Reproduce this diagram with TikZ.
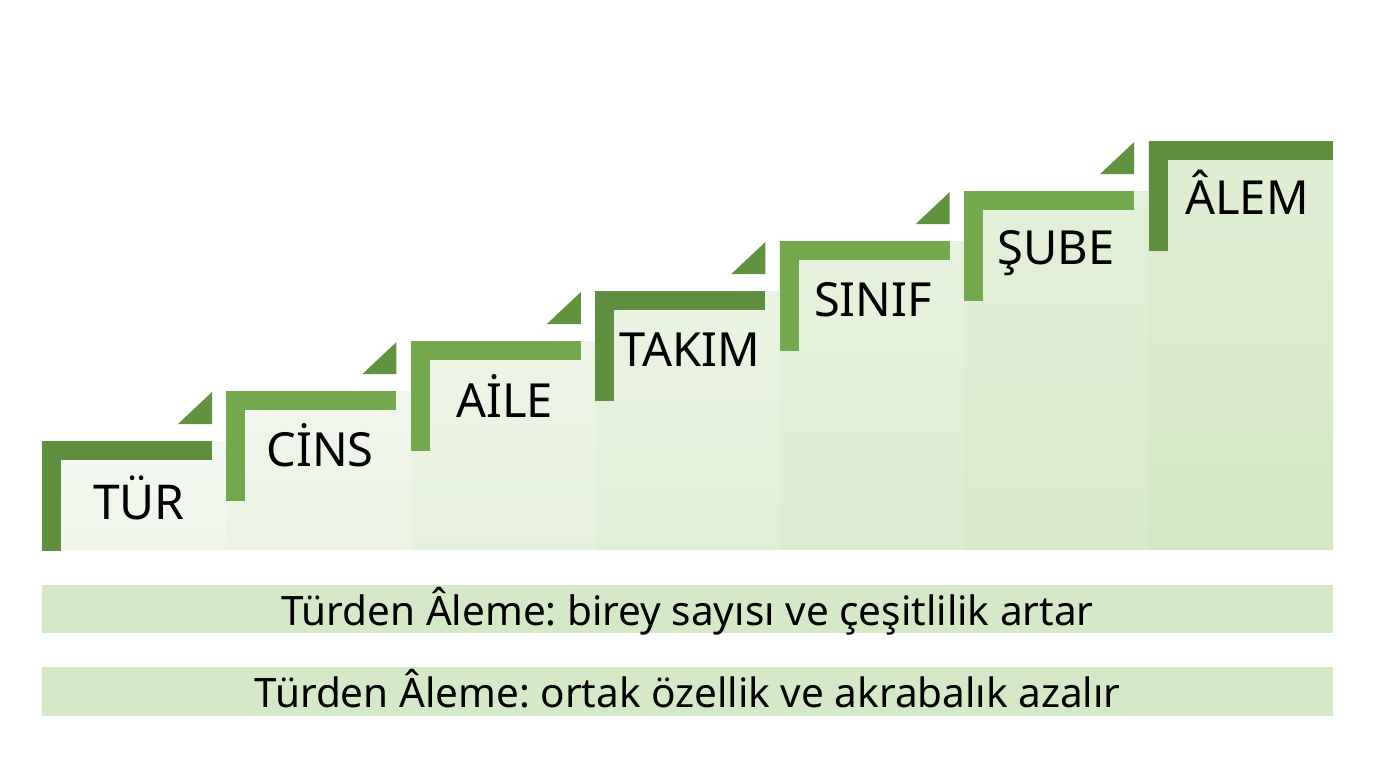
\documentclass[tikz,border=0pt]{standalone}
\usepackage{fontspec}
\setmainfont{Noto Sans}
\frenchspacing
\definecolor{colNear}{HTML}{EFF5EA}
\definecolor{colFar}{HTML}{D4E8C3}
\definecolor{barDark}{HTML}{5E8E3E}
\definecolor{barLight}{HTML}{74A84D}
\definecolor{bandFill}{HTML}{D5E9C8}
\tikzset{
  lbl/.style={anchor=base, inner sep=0pt, font=\fontsize{47}{55}\selectfont, text=black},
  bandtext/.style={anchor=base, inner sep=0pt, font=\fontsize{40.5}{48}\selectfont, text=black},
}
\begin{document}
\begin{tikzpicture}[x=1pt,y=-1pt]
\useasboundingbox (0,0) rectangle (1376,768);
\fill[white] (0,0) rectangle (1376,768);
% column fills
\foreach \i in {0,...,6} {
  \pgfmathsetmacro\xa{42+184.43*\i}
  \pgfmathsetmacro\xb{42+184.43*(\i+1)}
  \pgfmathsetmacro\yt{441-50*\i}
  \pgfmathsetmacro\pc{100*\i/6}
  \colorlet{cf}{colFar!\pc!colNear}
  \colorlet{cft}{cf!70!white}
  \shade[top color=cft, bottom color=cf] (\xa,\yt) rectangle (\xb,549);
}
% step bars
\foreach \i/\c in {0/barDark,1/barLight,2/barLight,3/barDark,4/barLight,5/barLight,6/barDark} {
  \pgfmathsetmacro\xa{42+184.43*\i}
  \pgfmathsetmacro\yt{441-50*\i}
  \pgfmathsetmacro\xe{ifthenelse(\i==6,1333,\xa+170)}
  \pgfmathsetmacro\yv{ifthenelse(\i==0,551,\yt+110)}
  \fill[\c] (\xa,\yt) rectangle (\xe,\yt+19);
  \fill[\c] (\xa,\yt) rectangle (\xa+19,\yv);
}
% triangles
\foreach \i in {0,...,5} {
  \pgfmathsetmacro\xa{42+184.43*\i}
  \pgfmathsetmacro\yt{441-50*\i}
  \fill[barDark!85!barLight] (\xa+136,\yt-17) -- (\xa+170,\yt-17) -- (\xa+170,\yt-49) -- cycle;
}
% labels
\node[lbl, font=\fontsize{48}{56}\selectfont] (tur) at (139,519) {TÜR};
\node[lbl] (cins) at (320,466) {CİNS};
\node[lbl] (aile) at (504.5,417) {AİLE};
\node[lbl] (takim) at (690,366) {TAKIM};
\node[lbl] (sinif) at (873,316) {SINIF};
\node[lbl] (sube) at (1056,264) {ŞUBE};
\node[lbl] (alem) at (1247,214) {ÂLEM};
% bands
\fill[bandFill] (42,585) rectangle (1333,633);
\fill[bandFill] (42,667) rectangle (1333,716);
\node[bandtext] (band1) at (687.5,625) {Türden Âleme: birey sayısı ve çeşitlilik artar};
\node[bandtext] (band2) at (687.5,707) {Türden Âleme: ortak özellik ve akrabalık azalır};
\end{tikzpicture}
\end{document}
